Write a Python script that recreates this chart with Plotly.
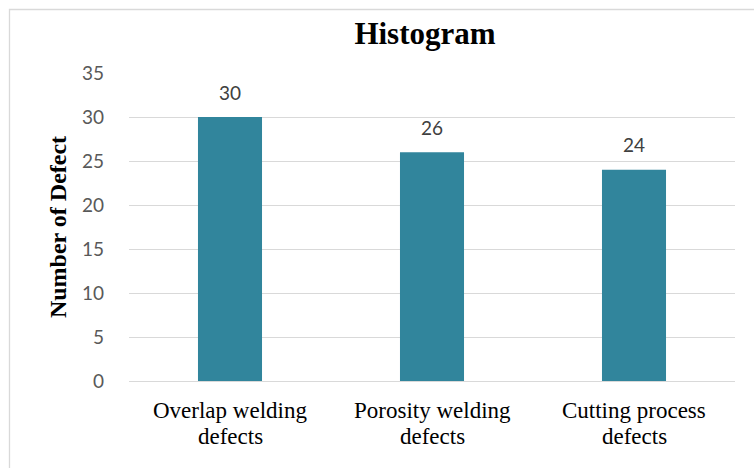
import plotly.graph_objects as go

# Defect counts by category
categories = ["Overlap welding defects", "Porosity welding defects", "Cutting process defects"]
label_lines = [
    ["Overlap welding", "defects"],
    ["Porosity welding", "defects"],
    ["Cutting process", "defects"],
]
counts = [30, 26, 24]
y_ticks = [0, 5, 10, 15, 20, 25, 30, 35]

W, H = 754, 468
L, R, T, B = 129, 19, 73, 87
pw, ph = W - L - R, H - T - B

SERIF = "Liberation Serif, Times New Roman, serif"
SANS = "Lato, Open Sans, sans-serif"


def px_x(x):
    return (x - L) / pw


def px_y(y):
    return (H - B - y) / ph


fig = go.Figure(
    go.Bar(
        x=categories,
        y=counts,
        marker=dict(color="#31859C", line=dict(width=0)),
        hoverinfo="x+y",
    )
)

annotations = []
# value labels above each bar
for cat, val in zip(categories, counts):
    annotations.append(
        dict(
            x=cat, y=val, xref="x", yref="y",
            text=str(val), showarrow=False,
            yanchor="middle", yshift=25,
            font=dict(family=SANS, size=19, color="#404040"),
        )
    )
# two-line category labels under the axis
line_centers = [410, 436]
for cat, lines in zip(categories, label_lines):
    for line, py in zip(lines, line_centers):
        annotations.append(
            dict(
                x=cat, y=px_y(py), xref="x", yref="paper",
                text=line, showarrow=False,
                xanchor="center", yanchor="middle",
                font=dict(family=SERIF, size=23, color="black"),
            )
        )

fig.update_layout(
    width=W,
    height=H,
    margin=dict(l=L, r=R, t=T, b=B),
    paper_bgcolor="white",
    plot_bgcolor="white",
    bargap=0.683,
    showlegend=False,
    title=dict(
        text="<b>Histogram</b>",
        x=px_x(425),
        xref="paper",
        xanchor="center",
        y=1 - 33 / H,
        yanchor="middle",
        font=dict(family=SERIF, size=31, color="black"),
    ),
    xaxis=dict(
        showgrid=False,
        showline=True,
        linecolor="#d9d9d9",
        linewidth=1.3,
        ticks="",
        showticklabels=False,
    ),
    yaxis=dict(
        range=[0, 35],
        tickvals=y_ticks,
        showgrid=True,
        gridcolor="#d9d9d9",
        gridwidth=1.3,
        zeroline=False,
        showline=False,
        ticks="",
        ticklabelstandoff=24,
        tickfont=dict(family=SANS, size=19, color="#595959"),
        title=dict(
            text="<b>Number of Defect</b>",
            font=dict(family=SERIF, size=24, color="black"),
            standoff=8,
        ),
    ),
    annotations=annotations,
    shapes=[
        # chart frame (left and top edges visible)
        dict(
            type="rect",
            xref="paper",
            yref="paper",
            x0=px_x(9.5),
            x1=px_x(800),
            y0=px_y(520),
            y1=px_y(9.5),
            line=dict(color="#d9d9d9", width=1.3),
            fillcolor="rgba(0,0,0,0)",
            layer="below",
        )
    ],
)

fig.write_html("out.html")
